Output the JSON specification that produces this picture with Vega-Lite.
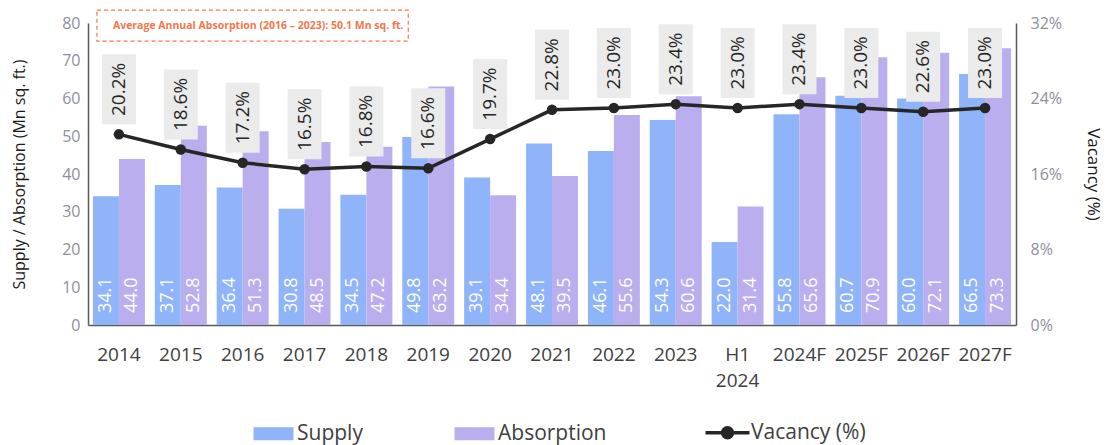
{
  "$schema": "https://vega.github.io/schema/vega-lite/v6.json",
  "width": 928,
  "height": 302,
  "autosize": {"type": "none"},
  "padding": {"left": 88, "top": 23, "right": 91, "bottom": 120},
  "background": "white",
  "config": {
    "view": {"stroke": null},
    "font": "Open Sans",
    "axis": {"grid": false, "ticks": false, "labelFont": "Open Sans", "titleFont": "Open Sans", "labelOverlap": false}
  },
  "datasets": {
    "bars": [
      {"year": "2014", "series": "Supply", "value": 34.1},
      {"year": "2014", "series": "Absorption", "value": 44.0},
      {"year": "2015", "series": "Supply", "value": 37.1},
      {"year": "2015", "series": "Absorption", "value": 52.8},
      {"year": "2016", "series": "Supply", "value": 36.4},
      {"year": "2016", "series": "Absorption", "value": 51.3},
      {"year": "2017", "series": "Supply", "value": 30.8},
      {"year": "2017", "series": "Absorption", "value": 48.5},
      {"year": "2018", "series": "Supply", "value": 34.5},
      {"year": "2018", "series": "Absorption", "value": 47.2},
      {"year": "2019", "series": "Supply", "value": 49.8},
      {"year": "2019", "series": "Absorption", "value": 63.2},
      {"year": "2020", "series": "Supply", "value": 39.1},
      {"year": "2020", "series": "Absorption", "value": 34.4},
      {"year": "2021", "series": "Supply", "value": 48.1},
      {"year": "2021", "series": "Absorption", "value": 39.5},
      {"year": "2022", "series": "Supply", "value": 46.1},
      {"year": "2022", "series": "Absorption", "value": 55.6},
      {"year": "2023", "series": "Supply", "value": 54.3},
      {"year": "2023", "series": "Absorption", "value": 60.6},
      {"year": "H1 2024", "series": "Supply", "value": 22.0},
      {"year": "H1 2024", "series": "Absorption", "value": 31.4},
      {"year": "2024F", "series": "Supply", "value": 55.8},
      {"year": "2024F", "series": "Absorption", "value": 65.6},
      {"year": "2025F", "series": "Supply", "value": 60.7},
      {"year": "2025F", "series": "Absorption", "value": 70.9},
      {"year": "2026F", "series": "Supply", "value": 60.0},
      {"year": "2026F", "series": "Absorption", "value": 72.1},
      {"year": "2027F", "series": "Supply", "value": 66.5},
      {"year": "2027F", "series": "Absorption", "value": 73.3}
    ],
    "vacancy": [
      {"year": "2014", "vacancy": 0.202},
      {"year": "2015", "vacancy": 0.186},
      {"year": "2016", "vacancy": 0.172},
      {"year": "2017", "vacancy": 0.165},
      {"year": "2018", "vacancy": 0.168},
      {"year": "2019", "vacancy": 0.166},
      {"year": "2020", "vacancy": 0.197},
      {"year": "2021", "vacancy": 0.228},
      {"year": "2022", "vacancy": 0.230},
      {"year": "2023", "vacancy": 0.234},
      {"year": "H1 2024", "vacancy": 0.230},
      {"year": "2024F", "vacancy": 0.234},
      {"year": "2025F", "vacancy": 0.230},
      {"year": "2026F", "vacancy": 0.226},
      {"year": "2027F", "vacancy": 0.230}
    ],
    "note": [
      {"label": "Average Annual Absorption (2016 – 2023): 50.1 Mn sq. ft."}
    ]
  },
  "encoding": {
    "x": {
      "field": "year",
      "type": "nominal",
      "sort": null,
      "scale": {"paddingInner": 0.16, "paddingOuter": 0.08},
      "axis": {
        "title": null,
        "labelAngle": 0,
        "labelFontSize": 19,
        "labelColor": "#404040",
        "labelPadding": 20,
        "labelLineHeight": 26,
        "labelExpr": "datum.label == 'H1 2024' ? ['H1', '2024'] : datum.label",
        "domainColor": "#5a5a5a",
        "domainWidth": 1.5
      }
    }
  },
  "layer": [
    {
      "data": {"name": "bars"},
      "mark": {"type": "bar"},
      "encoding": {
        "xOffset": {"field": "series", "type": "nominal", "sort": ["Supply", "Absorption"], "scale": {"paddingInner": 0, "paddingOuter": 0}},
        "y": {
          "field": "value",
          "type": "quantitative",
          "scale": {"domain": [0, 80], "nice": false},
          "axis": {
            "orient": "left",
            "values": [0, 10, 20, 30, 40, 50, 60, 70, 80],
            "labelOverlap": false,
            "labelFontSize": 16,
            "labelColor": "#8e8e9c",
            "labelPadding": 8,
            "domainColor": "#5a5a5a",
            "domainWidth": 1.5,
            "title": "Supply / Absorption (Mn sq. ft.)",
            "titleFontSize": 16,
            "titleFontWeight": "normal",
            "titleColor": "#1a1a1a",
            "titlePadding": 34
          }
        },
        "color": {
          "field": "series",
          "type": "nominal",
          "scale": {"domain": ["Supply", "Absorption", "Vacancy (%)"], "range": ["#8fb4f9", "#bbaeee", "#262626"]},
          "legend": {
            "title": null,
            "orient": "none",
            "legendX": 175,
            "legendY": 399,
            "direction": "horizontal",
            "columnPadding": 91,
            "symbolSize": 1600,
            "labelFontSize": 21,
            "labelFont": "Open Sans",
            "labelColor": "#404040",
            "labelOffset": 13,
            "padding": 0,
            "encode": {
              "symbols": {
                "update": {
                  "shape": {"signal": "datum.value === 'Vacancy (%)' ? 'M-1.1,0H1.1M-0.25,0A0.25,0.25 0 1,1 0.25,0A0.25,0.25 0 1,1 -0.25,0Z' : 'M-1,-0.33H1V0.33H-1Z'"},
                  "fill": {"signal": "scale('color', datum.value)"},
                  "stroke": {"signal": "scale('color', datum.value)"},
                  "strokeWidth": {"signal": "datum.value === 'Vacancy (%)' ? 3.5 : 0"},
                  "opacity": {"value": 1},
                  "fillOpacity": {"value": 1}
                }
              }
            }
          }
        }
      }
    },
    {
      "data": {"name": "bars"},
      "mark": {"type": "text", "angle": -90, "align": "left", "baseline": "middle", "dx": 12, "fontSize": 18, "color": "white", "font": "Open Sans"},
      "encoding": {
        "xOffset": {"field": "series", "type": "nominal", "sort": ["Supply", "Absorption"]},
        "y": {"datum": 0, "type": "quantitative", "scale": {"domain": [0, 80], "nice": false}, "axis": null},
        "text": {"field": "value", "type": "quantitative", "format": ".1f"}
      }
    },
    {
      "data": {"name": "note"},
      "mark": {"type": "rect", "fill": null, "fillOpacity": 0, "stroke": "#f4764b", "strokeWidth": 1.2, "strokeDash": [4, 3], "xOffset": -22, "x2Offset": -20},
      "encoding": {
        "x": {"datum": "2014"},
        "x2": {"datum": "2019"},
        "y": {"datum": 83.4, "type": "quantitative", "scale": {"domain": [0, 80], "nice": false}, "axis": null},
        "y2": {"datum": 75.2}
      }
    },
    {
      "data": {"name": "note"},
      "mark": {"type": "text", "align": "left", "baseline": "middle", "dx": -6, "fontSize": 10.5, "fontWeight": "bold", "color": "#f4764b", "font": "Open Sans"},
      "encoding": {
        "x": {"datum": "2014"},
        "y": {"datum": 79.3, "type": "quantitative", "scale": {"domain": [0, 80], "nice": false}, "axis": null},
        "text": {"field": "label"}
      }
    },
    {
      "data": {"name": "vacancy"},
      "mark": {"type": "bar", "color": "#ebebeb", "width": 34, "yOffset": -10, "y2Offset": -80},
      "encoding": {
        "y": {
          "field": "vacancy",
          "type": "quantitative",
          "scale": {"domain": [0, 0.32], "nice": false},
          "axis": {
            "orient": "right",
            "values": [0, 0.08, 0.16, 0.24, 0.32],
            "format": ".0%",
            "labelOverlap": false,
            "labelFontSize": 16,
            "labelColor": "#8e8e9c",
            "labelPadding": 14,
            "domainColor": "#5a5a5a",
            "domainWidth": 1.5,
            "title": "Vacancy (%)",
            "titleAngle": 90,
            "titleFontSize": 17,
            "titleFontWeight": "normal",
            "titleColor": "#1a1a1a",
            "titlePadding": 22
          }
        },
        "y2": {"field": "vacancy"}
      }
    },
    {
      "data": {"name": "vacancy"},
      "mark": {"type": "line", "strokeWidth": 3.5, "point": {"filled": true, "size": 110}},
      "encoding": {
        "y": {"field": "vacancy", "type": "quantitative", "scale": {"domain": [0, 0.32], "nice": false}, "axis": null},
        "color": {"datum": "Vacancy (%)"}
      }
    },
    {
      "data": {"name": "vacancy"},
      "mark": {"type": "text", "angle": -90, "align": "center", "baseline": "middle", "yOffset": -45, "fontSize": 19, "color": "#262626", "font": "Open Sans"},
      "encoding": {
        "y": {"field": "vacancy", "type": "quantitative", "scale": {"domain": [0, 0.32], "nice": false}, "axis": null},
        "text": {"field": "vacancy", "type": "quantitative", "format": ".1%"}
      }
    }
  ],
  "resolve": {"scale": {"y": "independent"}}
}
